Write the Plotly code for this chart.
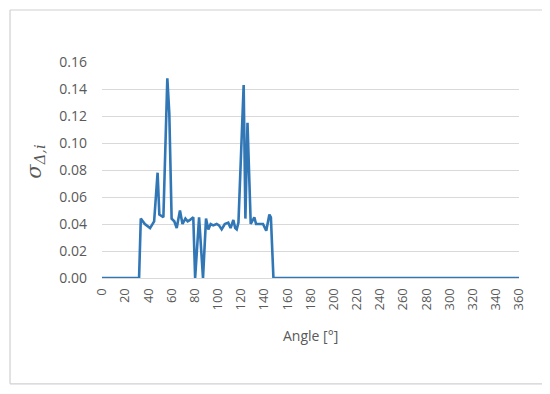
import plotly.graph_objects as go

# Angle [deg] and sigma values
angles = [0, 32, 33.5, 37, 41.5, 45, 48, 49.5, 53, 56.4, 58.1, 60.1, 62.4, 64.5,
          67.3, 69.5, 72, 74, 76, 78.8, 80.4, 83.8, 87.2, 89.8, 91.8, 93.8, 96,
          99, 101, 103.3, 106, 109, 111, 113.4, 115, 116.3, 117.8, 122.3, 123.8,
          125.6, 128.4, 131.5, 133, 136, 139, 141.8, 144.5, 145.8, 148, 360]
sigma = [0, 0, 0.044, 0.040, 0.037, 0.042, 0.078, 0.047, 0.045, 0.148, 0.122, 0.044,
         0.042, 0.037, 0.050, 0.040, 0.044, 0.042, 0.043, 0.045, 0.0, 0.045, 0.0,
         0.044, 0.036, 0.040, 0.039, 0.040, 0.039, 0.036, 0.040, 0.041, 0.037,
         0.043, 0.037, 0.036, 0.041, 0.143, 0.044, 0.115, 0.040, 0.045, 0.040,
         0.040, 0.040, 0.035, 0.047, 0.045, 0.0, 0]

x_ticks = list(range(0, 361, 20))
y_ticks = [0.00, 0.02, 0.04, 0.06, 0.08, 0.10, 0.12, 0.14, 0.16]

grey_text = "#595959"
font_family = "Open Sans, Liberation Sans, sans-serif"

fig = go.Figure()
fig.add_trace(go.Scatter(
    x=angles, y=sigma, mode="lines",
    line=dict(color="#3176B5", width=2.6),
    showlegend=False, hoverinfo="skip",
))

border = dict(color="#D0D0D0", width=1.2)
bx0, bx1, by0, by1 = -0.2206, 1.0624, -0.49, 1.2407
border_shapes = [
    dict(type="line", xref="paper", yref="paper", x0=bx0, x1=bx1, y0=by0, y1=by0, line=border),
    dict(type="line", xref="paper", yref="paper", x0=bx0, x1=bx1, y0=by1, y1=by1, line=border),
    dict(type="line", xref="paper", yref="paper", x0=bx0, x1=bx0, y0=by0, y1=by1, line=border),
    dict(type="line", xref="paper", yref="paper", x0=bx1, x1=bx1, y0=by0, y1=by1, line=border),
]

# page body has an 8px margin, so the figure is sized/offset to compensate
fig.update_layout(
    width=542, height=378,
    margin=dict(l=94, r=31, t=54, b=108),
    paper_bgcolor="white", plot_bgcolor="white",
    font=dict(family=font_family, color=grey_text, size=13),
    xaxis=dict(
        range=[0, 360], tickvals=x_ticks, ticktext=[str(v) for v in x_ticks],
        tickangle=-90, showgrid=False, zeroline=False, automargin=False,
        showline=True, linecolor="#D9D9D9", linewidth=1,
        ticks="", ticklabelstandoff=4,
        tickfont=dict(size=13, color=grey_text),
    ),
    yaxis=dict(
        range=[0, 0.16], tickvals=y_ticks, ticktext=[f"{v:.2f}" for v in y_ticks],
        showgrid=True, gridcolor="#D9D9D9", gridwidth=1, zeroline=False,
        showline=False, ticks="", ticklabelstandoff=14, automargin=False,
        tickfont=dict(size=14, color=grey_text),
    ),
    shapes=border_shapes,
    annotations=[
        dict(text="Angle [°]", xref="paper", yref="paper", x=0.5, y=-0.2685,
             xanchor="center", yanchor="middle", showarrow=False,
             font=dict(size=14, color=grey_text)),
        dict(text="<i>σ</i><sub><i>Δ,i</i></sub>", xref="paper", yref="paper",
             x=-0.16, y=0.54, xanchor="center", yanchor="middle", textangle=-90,
             showarrow=False, font=dict(size=21, color=grey_text,
                                        family="DejaVu Serif, serif")),
    ],
)

fig.write_html("out.html")
